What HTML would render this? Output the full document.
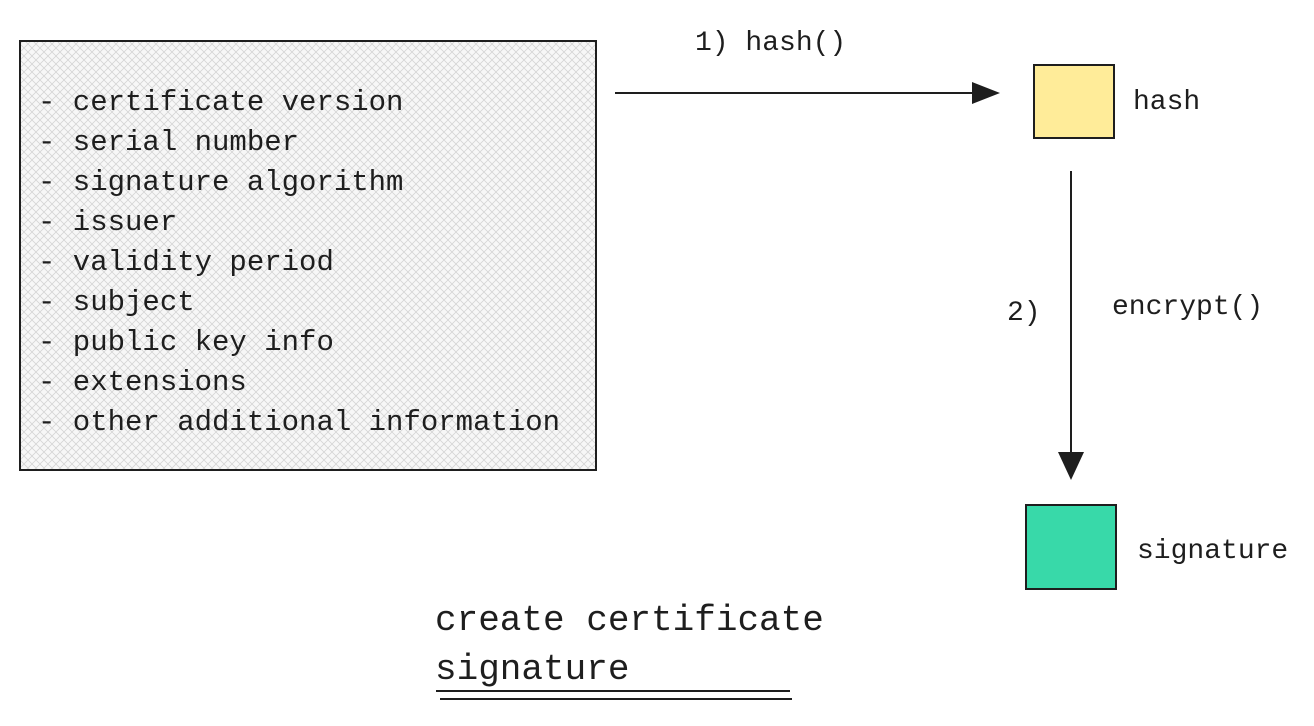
<!DOCTYPE html>
<html><head><style>
body{margin:0;background:#fff;width:1314px;height:721px;overflow:hidden}
svg text{font-family:"Liberation Mono",monospace;fill:#1e1e1e}
</style></head><body>
<svg width="1314" height="721" xmlns="http://www.w3.org/2000/svg">
<defs>
<pattern id="h" width="8" height="8" patternUnits="userSpaceOnUse">
<path d="M0 0L8 8M8 0L0 8" stroke="#d5d5d5" stroke-width="0.8"/>
</pattern>
</defs>
<rect x="20" y="41" width="576" height="429" fill="#f7f7f7"/>
<rect x="20" y="41" width="576" height="429" fill="url(#h)" stroke="#1e1e1e" stroke-width="2"/>
<g font-size="29">
<text x="38" y="110">- certificate version</text>
<text x="38" y="150">- serial number</text>
<text x="38" y="190">- signature algorithm</text>
<text x="38" y="230">- issuer</text>
<text x="38" y="270">- validity period</text>
<text x="38" y="310">- subject</text>
<text x="38" y="350">- public key info</text>
<text x="38" y="390">- extensions</text>
<text x="38" y="430">- other additional information</text>
</g>
<line x1="615" y1="93" x2="975" y2="93" stroke="#1e1e1e" stroke-width="2"/>
<path d="M1000 93L972 82L972 104Z" fill="#1e1e1e"/>
<text x="695" y="50" font-size="28">1) hash()</text>
<rect x="1034" y="65" width="80" height="73" fill="#ffec99" stroke="#1e1e1e" stroke-width="2"/>
<text x="1133" y="109" font-size="28">hash</text>
<line x1="1071" y1="171" x2="1071" y2="455" stroke="#1e1e1e" stroke-width="2"/>
<path d="M1071 480L1058 452L1084 452Z" fill="#1e1e1e"/>
<text x="1007" y="320" font-size="28">2)</text>
<text x="1112" y="314" font-size="28">encrypt()</text>
<rect x="1026" y="505" width="90" height="84" fill="#38d9a9" stroke="#1e1e1e" stroke-width="2"/>
<text x="1137" y="558" font-size="28">signature</text>
<g font-size="36">
<text x="435" y="630">create certificate</text>
<text x="435" y="679">signature</text>
</g>
<line x1="436" y1="691" x2="790" y2="691" stroke="#1e1e1e" stroke-width="2"/>
<line x1="440" y1="699" x2="792" y2="699" stroke="#1e1e1e" stroke-width="2"/>
</svg>
</body></html>
